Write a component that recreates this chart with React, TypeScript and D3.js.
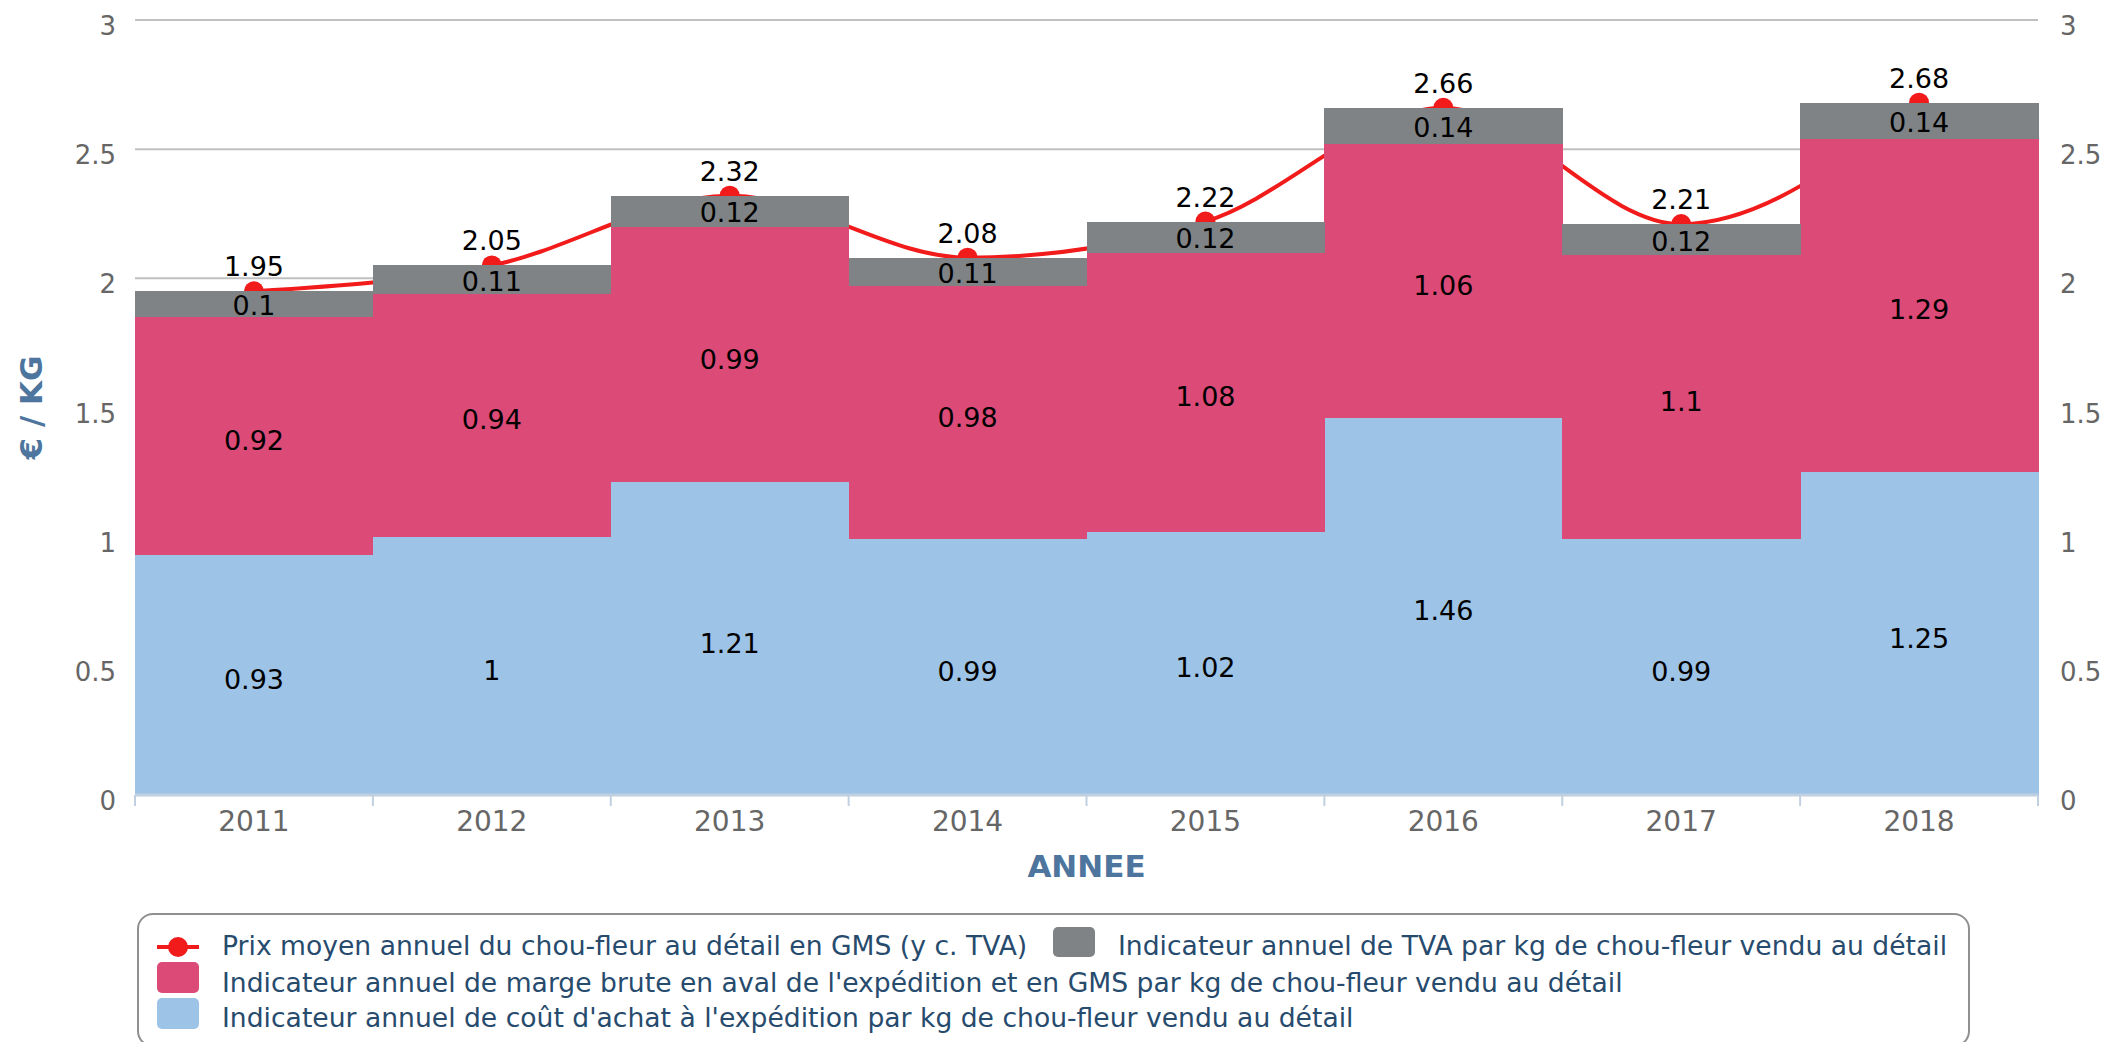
import React, { FC } from 'react'
import * as d3 from 'd3'

const years = ['2011', '2012', '2013', '2014', '2015', '2016', '2017', '2018']
const coutAchat = [0.93, 1, 1.21, 0.99, 1.02, 1.46, 0.99, 1.25]
const margeBrute = [0.92, 0.94, 0.99, 0.98, 1.08, 1.06, 1.1, 1.29]
const tva = [0.1, 0.11, 0.12, 0.11, 0.12, 0.14, 0.12, 0.14]
const prixMoyen = [1.95, 2.05, 2.32, 2.08, 2.22, 2.66, 2.21, 2.68]
const yTicks = [0, 0.5, 1, 1.5, 2, 2.5, 3]

const legendPrix = 'Prix moyen annuel du chou-fleur au détail en GMS (y c. TVA)'
const legendTva = 'Indicateur annuel de TVA par kg de chou-fleur vendu au détail'
const legendMarge =
	"Indicateur annuel de marge brute en aval de l'expédition et en GMS par kg de chou-fleur vendu au détail"
const legendCout = "Indicateur annuel de coût d'achat à l'expédition par kg de chou-fleur vendu au détail"

const COLORS = {
	blue: '#9dc3e6',
	pink: '#dc4a77',
	gray: '#7f8385',
	red: '#f21b1b'
}

const FONT = '"DejaVu Sans", Verdana, sans-serif'

const App: FC = () => {
	const width = 2109
	const height = 1042
	const left = 135
	const right = 2038
	const top = 20
	const bottom = 795

	const x = d3.scaleBand<string>().domain(years).range([left, right]).padding(0)
	const y = d3.scaleLinear().domain([0, 3]).range([bottom, top])
	const bw = x.bandwidth()
	const cx = (yr: string) => (x(yr) as number) + bw / 2

	// empilement : achat, marge, tva
	const rows = years.map((yr, i) => ({ year: yr, achat: coutAchat[i], marge: margeBrute[i], tva: tva[i] }))
	const stack = d3.stack<any>().keys(['achat', 'marge', 'tva'])(rows)
	const fills = [COLORS.blue, COLORS.pink, COLORS.gray]
	const labels = [coutAchat, margeBrute, tva]

	const line = d3
		.line<number>()
		.x((_, i) => cx(years[i]))
		.y((d) => y(d))
		.curve(d3.curveMonotoneX)

	return (
		<svg
			width={width}
			height={height}
			style={{ position: 'absolute', left: 0, top: 0, background: '#fff' }}
			fontFamily={FONT}
		>
			{/* grille */}
			<g>
				{yTicks.map((t) => (
					<line key={t} x1={left} x2={right} y1={y(t)} y2={y(t)} stroke="#c0c0c0" strokeWidth={2} />
				))}
			</g>
			{/* axes Y gauche / droite */}
			<g fontSize={26} fill="#666">
				{yTicks.map((t) => (
					<text key={'l' + t} x={116} y={y(t) + 15} textAnchor="end">
						{t}
					</text>
				))}
				{yTicks.map((t) => (
					<text key={'r' + t} x={2060} y={y(t) + 15} textAnchor="start">
						{t}
					</text>
				))}
			</g>
			{/* courbe prix (derrière les colonnes) */}
			<path d={line(prixMoyen) || ''} fill="none" stroke={COLORS.red} strokeWidth={4} />
			{prixMoyen.map((v, i) => (
				<circle key={i} cx={cx(years[i])} cy={y(v)} r={10} fill={COLORS.red} />
			))}
			{/* colonnes empilées */}
			{stack.map((serie, si) => (
				<g key={si} fill={fills[si]} shapeRendering="crispEdges">
					{serie.map((d, i) => (
						<rect
							key={i}
							x={x(years[i])}
							y={y(d[1])}
							width={bw + 0.5}
							height={y(d[0]) - y(d[1])}
						/>
					))}
				</g>
			))}
			{/* étiquettes des colonnes */}
			<g fontSize={27} fill="#000" textAnchor="middle">
				{stack.map((serie, si) =>
					serie.map((d, i) => (
						<text key={si + '-' + i} x={cx(years[i])} y={(y(d[0]) + y(d[1])) / 2 + (si === 2 ? 11 : 14)}>
							{labels[si][i]}
						</text>
					))
				)}
				{prixMoyen.map((v, i) => (
					<text key={'p' + i} x={cx(years[i])} y={y(v) - 15}>
						{v}
					</text>
				))}
			</g>
			{/* axe X */}
			<line x1={left} x2={right} y1={bottom} y2={bottom} stroke="#c0d0e0" strokeWidth={3} />
			{years.concat(['end']).map((yr, i) => {
				const xx = left + i * bw
				return <line key={yr} x1={xx} x2={xx} y1={bottom} y2={bottom + 11} stroke="#c0d0e0" strokeWidth={2} />
			})}
			<g fontSize={28} fill="#666" textAnchor="middle">
				{years.map((yr) => (
					<text key={yr} x={cx(yr)} y={831}>
						{yr}
					</text>
				))}
			</g>
			{/* titres des axes */}
			<text x={(left + right) / 2} y={877} textAnchor="middle" fontSize={31} fontWeight="bold" fill="#4d759e">
				ANNEE
			</text>
			<text
				transform={`translate(42,${(top + bottom) / 2}) rotate(-90)`}
				textAnchor="middle"
				fontSize={31}
				fontWeight="bold"
				fill="#4d759e"
			>
				€ / KG
			</text>
			{/* légende */}
			<rect x={138} y={914} width={1831} height={132} rx={15} fill="#fff" stroke="#909090" strokeWidth={2} />
			<g fontSize={26.6} fill="#274b6d">
				<line x1={157} x2={199} y1={947} y2={947} stroke={COLORS.red} strokeWidth={4} />
				<circle cx={178} cy={947} r={10} fill={COLORS.red} />
				<text x={222} y={955}>{legendPrix}</text>
				<rect x={1053} y={927} width={42} height={30} rx={5} fill={COLORS.gray} />
				<text x={1118} y={955}>{legendTva}</text>
				<rect x={157} y={962} width={42} height={31} rx={5} fill={COLORS.pink} />
				<text x={222} y={992}>{legendMarge}</text>
				<rect x={157} y={998} width={42} height={31} rx={5} fill={COLORS.blue} />
				<text x={222} y={1027}>{legendCout}</text>
			</g>
		</svg>
	)
}

export default App
